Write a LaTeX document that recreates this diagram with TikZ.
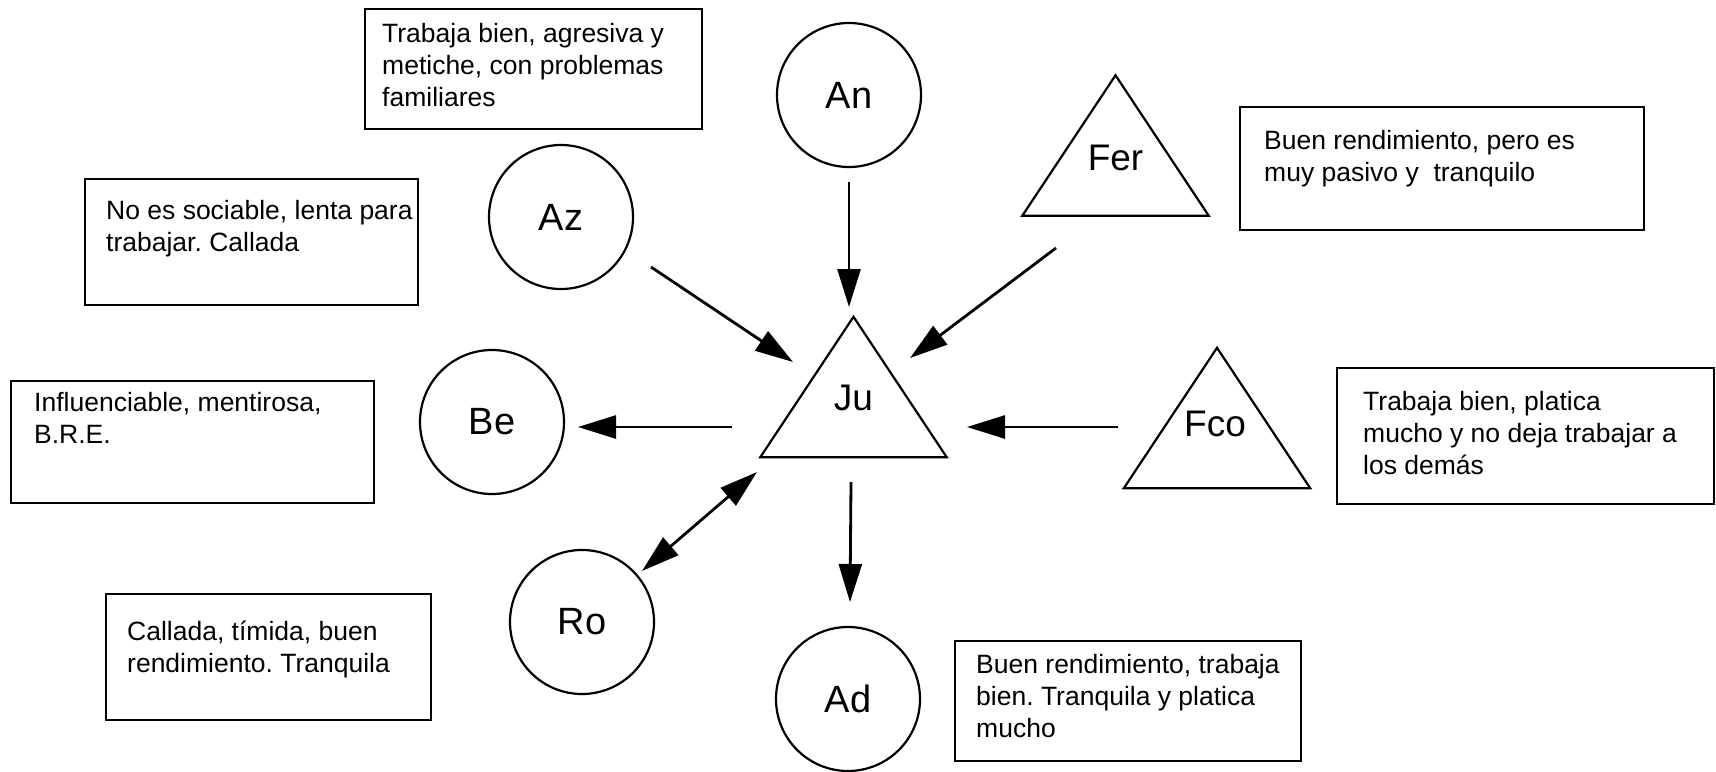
\documentclass[tikz,border=0pt]{standalone}
\usepackage{fontspec}
\setmainfont{Liberation Sans}
\usetikzlibrary{arrows.meta}
\frenchspacing
\begin{document}
\begin{tikzpicture}[x=1pt,y=-1pt,
  outline/.style={line width=2.2pt},
  person/.style={circle, draw, outline, minimum size=144pt, inner sep=0pt,
    font=\fontsize{38}{42}\selectfont},
  triframe/.style={minimum width=186pt, minimum height=140pt, inner sep=0pt},
  trilabel/.style={inner sep=0pt, font=\fontsize{37}{42}\selectfont},
  notebox/.style={draw, outline, anchor=north west, inner sep=0pt},
  notetext/.style={anchor=north west, inner sep=0pt, align=left,
    font=\fontsize{26.5}{32}\selectfont, execute at begin node=\strut},
  tip/.tip={Triangle[length=38pt,width=23pt]},
  link/.style={line width=2.8pt, -tip},
  twoway/.style={line width=2.8pt, tip-tip}
]
\useasboundingbox (0,0) rectangle (1716,771);

% people drawn as circles
\node[person] (An) at (849,95)  {An};
\node[person] (Az) at (561,217) {Az};
\node[person] (Be) at (492,422) {Be};
\node[person] (Ro) at (582,622) {Ro};
\node[person] (Ad) at (848,699) {Ad};

% people drawn as triangles
\node[triframe] (Ju)  at (853.5,387)  {};
\node[triframe] (Fer) at (1115.5,145.5) {};
\node[triframe] (Fco) at (1217,418)   {};
\foreach \t in {Ju,Fer,Fco}
  \draw[outline] (\t.north) -- (\t.south west) -- (\t.south east) -- cycle;
\node[trilabel] (JuL)  at ([shift={(0,11)}]Ju.center)  {Ju};
\node[trilabel] (FerL) at ([shift={(0,12)}]Fer.center) {Fer};
\node[trilabel] (FcoL) at ([shift={(-2,6)}]Fco.center) {Fco};

% description boxes
\node[notebox, minimum width=337pt, minimum height=120pt] (bAn) at (364,8) {};
\node[notetext] (tAn) at ([shift={(18,14.6)}]bAn.north west)
  {Trabaja bien, agresiva y\\metiche, con problemas\\familiares};

\node[notebox, minimum width=333pt, minimum height=126pt] (bAz) at (84,178) {};
\node[notetext] (tAz) at ([shift={(22,21.6)}]bAz.north west)
  {No es sociable, lenta para\\trabajar. Callada};

\node[notebox, minimum width=363pt, minimum height=122pt] (bBe) at (10,380) {};
\node[notetext] (tBe) at ([shift={(24,11.6)}]bBe.north west)
  {Influenciable, mentirosa,\\B.R.E.};

\node[notebox, minimum width=325pt, minimum height=126pt] (bRo) at (105,593) {};
\node[notetext] (tRo) at ([shift={(22,27.6)}]bRo.north west)
  {Callada, tímida, buen\\rendimiento. Tranquila};

\node[notebox, minimum width=404pt, minimum height=123pt] (bFer) at (1239,106) {};
\node[notetext] (tFer) at ([shift={(25,23.6)}]bFer.north west)
  {Buen rendimiento, pero es\\muy pasivo y~ tranquilo};

\node[notebox, minimum width=377pt, minimum height=136pt] (bFco) at (1336,367) {};
\node[notetext] (tFco) at ([shift={(27,23.6)}]bFco.north west)
  {Trabaja bien, platica\\mucho y no deja trabajar a\\los demás};

\node[notebox, minimum width=346pt, minimum height=120pt] (bAd) at (954,640) {};
\node[notetext] (tAd) at ([shift={(22,13.6)}]bAd.north west)
  {Buen rendimiento, trabaja\\bien. Tranquila y platica\\mucho};

% relations
\draw[link] ([shift={(0,87)}]An.center) -- ([shift={(-4.5,-80)}]Ju.center);
\draw[link] ([shift={(90,50)}]Az.center) -- ([shift={(-60.5,-25)}]Ju.center);
\draw[link] ([shift={(-59.5,102.5)}]Fer.center) -- ([shift={(56.5,-29)}]Ju.center);
\draw[link] ([shift={(-121.5,40)}]Ju.center) -- ([shift={(86,5)}]Be.center);
\draw[link] ([shift={(-99,9)}]Fco.center) -- ([shift={(113.5,40)}]Ju.center);
\draw[twoway] ([shift={(-96.5,85)}]Ju.center) -- ([shift={(60,-51)}]Ro.center);
\draw[link] ([shift={(-2.5,95)}]Ju.center) -- ([shift={(2,-97)}]Ad.center);
\end{tikzpicture}
\end{document}
